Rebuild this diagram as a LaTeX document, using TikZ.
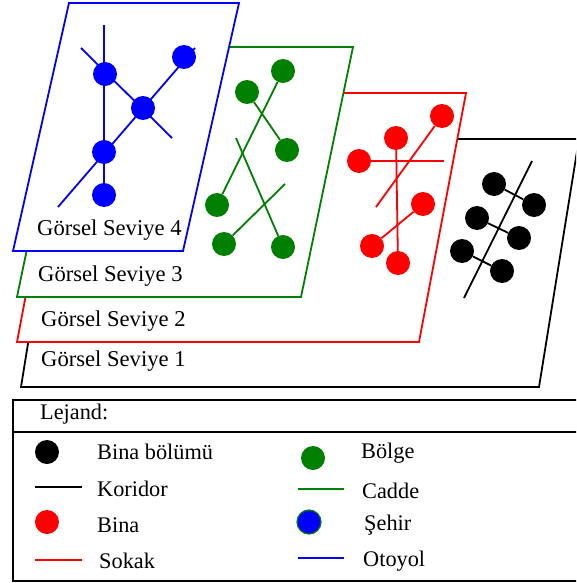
\documentclass[tikz,border=0pt]{standalone}
\usepackage{fontspec}
\setmainfont{Liberation Serif}
\definecolor{dkgreen}{RGB}{0,128,0}
\begin{document}
\begin{tikzpicture}[x=1pt,y=-1pt,
  panel/.style={line width=1.8pt,draw=#1,fill=white,line join=miter},
  lvlabel/.style={anchor=west,inner sep=0pt,font=\fontsize{22.6}{27}\selectfont},
  dot/.style={circle,inner sep=0pt,minimum size=24pt,fill=#1,draw=none},
  road/.style={line width=1.8pt,draw=#1},
  legtext/.style={anchor=west,inner sep=0pt,font=\fontsize{22.3}{27}\selectfont},
  legdot/.style={circle,inner sep=0pt,minimum size=24pt,fill=#1,draw=none},
  legline/.style={line width=1.8pt,draw=#1}]
\useasboundingbox (0,0) rectangle (576,583);
\clip (0,0) rectangle (576,583);

% Level 1: building parts and corridors
\draw[panel=black] (21,387) -- (539,387) -- (579,139) -- (61,139) -- cycle;
\node[dot=black] (k1) at (494,184) {};
\node[dot=black] (k2) at (534,205) {};
\node[dot=black] (k3) at (477,218) {};
\node[dot=black] (k4) at (519,238) {};
\node[dot=black] (k5) at (462,251) {};
\node[dot=black] (k6) at (502,271) {};
\coordinate (kt) at (532,161);
\coordinate (kb) at (464,298);
\draw[road=black] (kt) -- (kb);
\draw[road=black] (k1) -- (k2);
\draw[road=black] (k3) -- (k4);
\draw[road=black] (k5) -- (k6);
\node[lvlabel] (l1) at (41,361) {Görsel Seviye 1};

% Level 2: buildings and streets
\draw[panel=red] (17,342) -- (419,342) -- (466,93) -- (64,93) -- cycle;
\node[dot=red] (r1) at (442,116) {};
\node[dot=red] (r2) at (396,138) {};
\node[dot=red] (r3) at (359,161) {};
\node[dot=red] (r4) at (423,204) {};
\node[dot=red] (r5) at (372,246) {};
\node[dot=red] (r6) at (398,263) {};
\coordinate (rh) at (444,161);
\coordinate (rd) at (376,207);
\draw[road=red] (r3) -- (rh);
\draw[road=red] (r2) -- (r6);
\draw[road=red] (r1) -- (rd);
\draw[road=red] (r5) -- (r4);
\node[lvlabel] (l2) at (41,321) {Görsel Seviye 2};

% Level 3: districts and avenues
\draw[panel=dkgreen] (17,297) -- (301,297) -- (353,47) -- (69,47) -- cycle;
\node[dot=dkgreen] (g1) at (283,71) {};
\node[dot=dkgreen] (g2) at (247,92) {};
\node[dot=dkgreen] (g3) at (287,150) {};
\node[dot=dkgreen] (g4) at (217,205) {};
\node[dot=dkgreen] (g5) at (224,244) {};
\node[dot=dkgreen] (g6) at (283,247) {};
\coordinate (ga) at (236,138);
\coordinate (gb) at (285,184);
\draw[road=dkgreen] (g1) -- (g4);
\draw[road=dkgreen] (g2) -- (g3);
\draw[road=dkgreen] (ga) -- (g6);
\draw[road=dkgreen] (gb) -- (g5);
\node[lvlabel] (l3) at (38,276) {Görsel Seviye 3};

% Level 4: cities and highways
\draw[panel=blue] (13,251) -- (183,251) -- (239,3) -- (69,3) -- cycle;
\node[dot=blue] (b1) at (105,74) {};
\node[dot=blue] (b2) at (184,57) {};
\node[dot=blue] (b3) at (143,108) {};
\node[dot=blue] (b4) at (104,152) {};
\node[dot=blue] (b5) at (104,195) {};
\coordinate (bt) at (104,25);
\coordinate (ba) at (81,48);
\coordinate (bb) at (172,138);
\coordinate (bc) at (58,207);
\coordinate (bd) at (195,48);
\draw[road=blue] (bt) -- (b5);
\draw[road=blue] (ba) -- (bb);
\draw[road=blue] (bc) -- (bd);
\node[lvlabel] (l4) at (37,230) {Görsel Seviye 4};

% Legend
\draw[line width=1.6pt] (13,400) rectangle (582,581);
\draw[line width=1.6pt] (13,432) -- (582,432);
\node[legtext] (lt) at (40,414) {Lejand:};

\node[legdot=black] (d1) at (47,452) {};
\node[legtext] (t1) at (97,452) {Bina bölümü};
\coordinate (c1a) at (35,487);
\coordinate (c1b) at (82,487);
\draw[legline=black] (c1a) -- (c1b);
\node[legtext] (t2) at (97,489) {Koridor};
\node[legdot=red] (d3) at (47,522) {};
\node[legtext] (t3) at (97,525) {Bina};
\coordinate (c4a) at (35,560);
\coordinate (c4b) at (82,560);
\draw[legline=red] (c4a) -- (c4b);
\node[legtext] (t4) at (99,561) {Sokak};

\node[legdot=dkgreen] (d5) at (313,458) {};
\node[legtext] (t5) at (361,453) {Bölge};
\coordinate (c6a) at (298,489);
\coordinate (c6b) at (344,489);
\draw[legline=dkgreen] (c6a) -- (c6b);
\node[legtext] (t6) at (362,491) {Cadde};
\node[legdot=blue,draw=dkgreen,line width=1.2pt] (d7) at (309,522) {};
\node[legtext] (t7) at (364,525) {Şehir};
\coordinate (c8a) at (298,558);
\coordinate (c8b) at (344,558);
\draw[legline=blue] (c8a) -- (c8b);
\node[legtext] (t8) at (363,561) {Otoyol};
\end{tikzpicture}
\end{document}
